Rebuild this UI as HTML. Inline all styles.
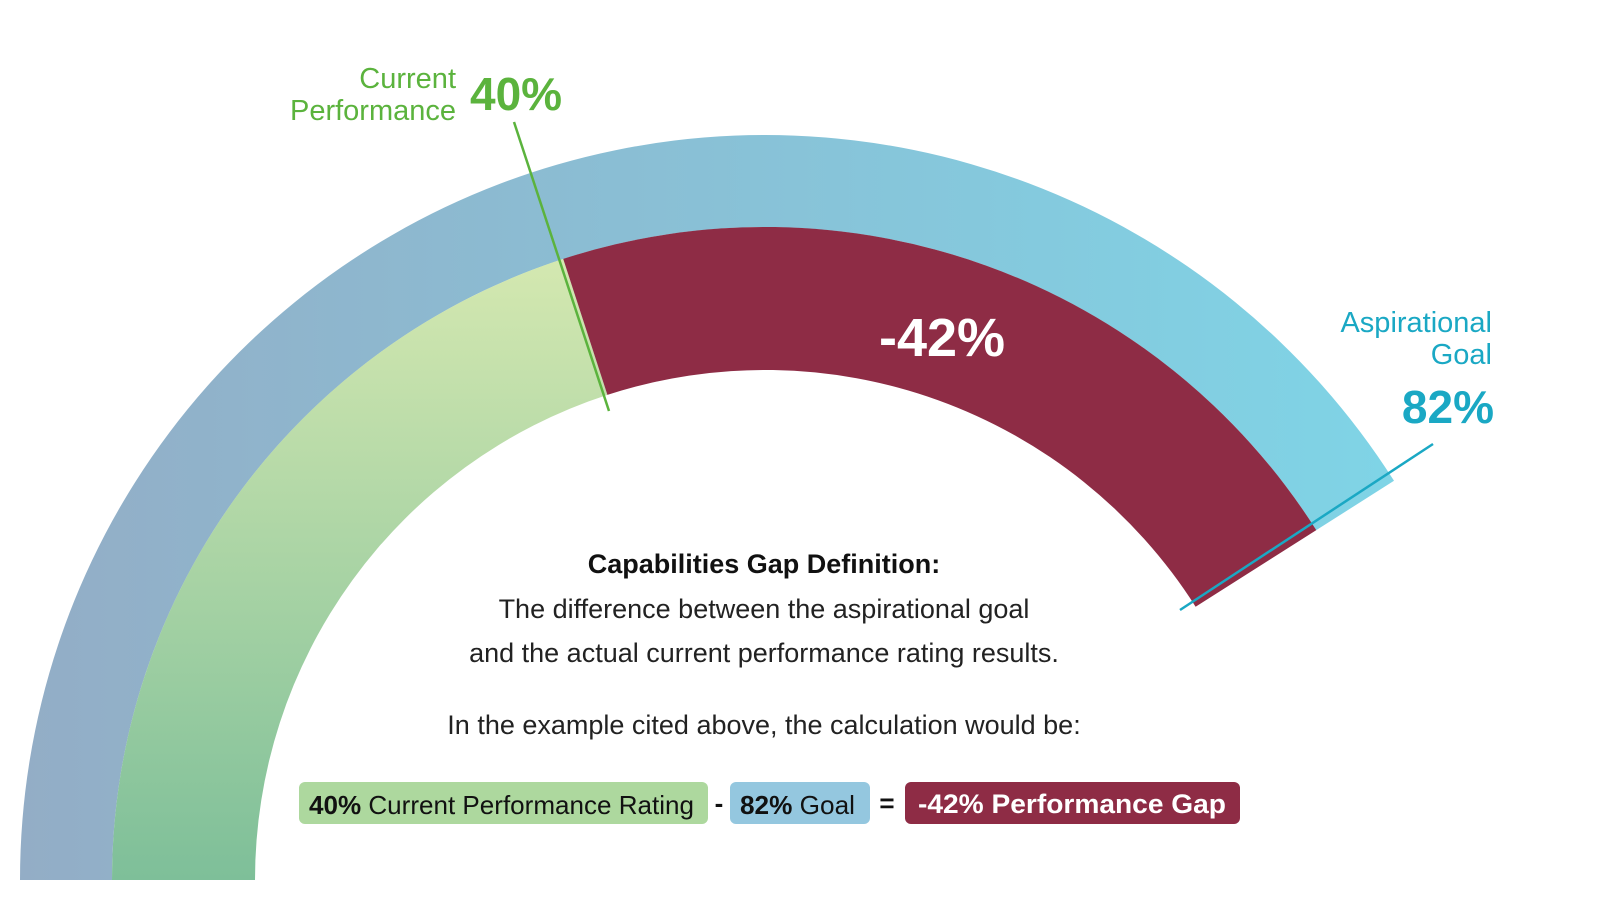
<!DOCTYPE html>
<html><head><meta charset="utf-8"><style>
html,body{margin:0;padding:0;background:#fff;}
body{width:1600px;height:899px;overflow:hidden;position:relative;font-family:"Liberation Sans",sans-serif;}
</style></head><body>
<svg width="1600" height="899" viewBox="0 0 1600 899" style="position:absolute;left:0;top:0">
<defs>
<linearGradient id="gb" x1="20" y1="0" x2="1394" y2="0" gradientUnits="userSpaceOnUse">
<stop offset="0" stop-color="#93adc6"/><stop offset="1" stop-color="#7fd4e6"/></linearGradient>
<linearGradient id="gg" x1="0" y1="259" x2="0" y2="880" gradientUnits="userSpaceOnUse">
<stop offset="0" stop-color="#d4e8b0"/><stop offset="1" stop-color="#7ebf99"/></linearGradient>
</defs>
<path d="M20,880 A745,745 0 0 1 1394,480.8 L1316.3,530.1 A653,653 0 0 0 112,880 Z" fill="url(#gb)"/>
<path d="M112,880 A653,653 0 0 1 563.2,258.9 L607.4,394.9 A510,510 0 0 0 255,880 Z" fill="url(#gg)"/>
<path d="M563.2,258.9 A653,653 0 0 1 1316.3,530.1 L1195.6,606.7 A510,510 0 0 0 607.4,394.9 Z" fill="#8e2c45"/>
<line x1="514" y1="122" x2="609" y2="411" stroke="#5bb33d" stroke-width="2.5"/>
<line x1="1433" y1="444" x2="1180" y2="610" stroke="#1aa8c4" stroke-width="2.5"/>
<text x="456" y="88" text-anchor="end" font-size="29" fill="#5bb33d">Current</text>
<text x="456" y="120" text-anchor="end" font-size="29" fill="#5bb33d">Performance</text>
<text x="470" y="110" font-size="46" font-weight="bold" fill="#5bb33d">40%</text>
<text x="1492" y="332" text-anchor="end" font-size="29" fill="#1aa8c4">Aspirational</text>
<text x="1492" y="364" text-anchor="end" font-size="29" fill="#1aa8c4">Goal</text>
<text x="1494" y="423" text-anchor="end" font-size="46" font-weight="bold" fill="#1aa8c4">82%</text>
<text x="942" y="356" text-anchor="middle" font-size="54" font-weight="bold" fill="#fff">-42%</text>
<text x="764" y="573" text-anchor="middle" font-size="27" font-weight="bold" fill="#111">Capabilities Gap Definition:</text>
<text x="764" y="618" text-anchor="middle" font-size="27" fill="#222">The difference between the aspirational goal</text>
<text x="764" y="662" text-anchor="middle" font-size="27" fill="#222">and the actual current performance rating results.</text>
<text x="764" y="734" text-anchor="middle" font-size="27" fill="#222">In the example cited above, the calculation would be:</text>
<rect x="299" y="782" width="409" height="42" rx="6" fill="#add89e"/>
<text x="309" y="814" font-size="26" fill="#111" textLength="385" lengthAdjust="spacingAndGlyphs"><tspan font-weight="bold">40%</tspan> Current Performance Rating</text>
<text x="719" y="812" text-anchor="middle" font-size="26" font-weight="bold" fill="#111">-</text>
<rect x="730" y="782" width="140" height="42" rx="6" fill="#94c7df"/>
<text x="740" y="814" font-size="26" fill="#111" textLength="115" lengthAdjust="spacingAndGlyphs"><tspan font-weight="bold">82%</tspan> Goal</text>
<text x="887" y="812" text-anchor="middle" font-size="26" font-weight="bold" fill="#111">=</text>
<rect x="905" y="782" width="335" height="42" rx="6" fill="#8e2c45"/>
<text x="918" y="813" font-size="27" font-weight="bold" fill="#fff" textLength="308" lengthAdjust="spacingAndGlyphs">-42% Performance Gap</text>
</svg>
</body></html>
